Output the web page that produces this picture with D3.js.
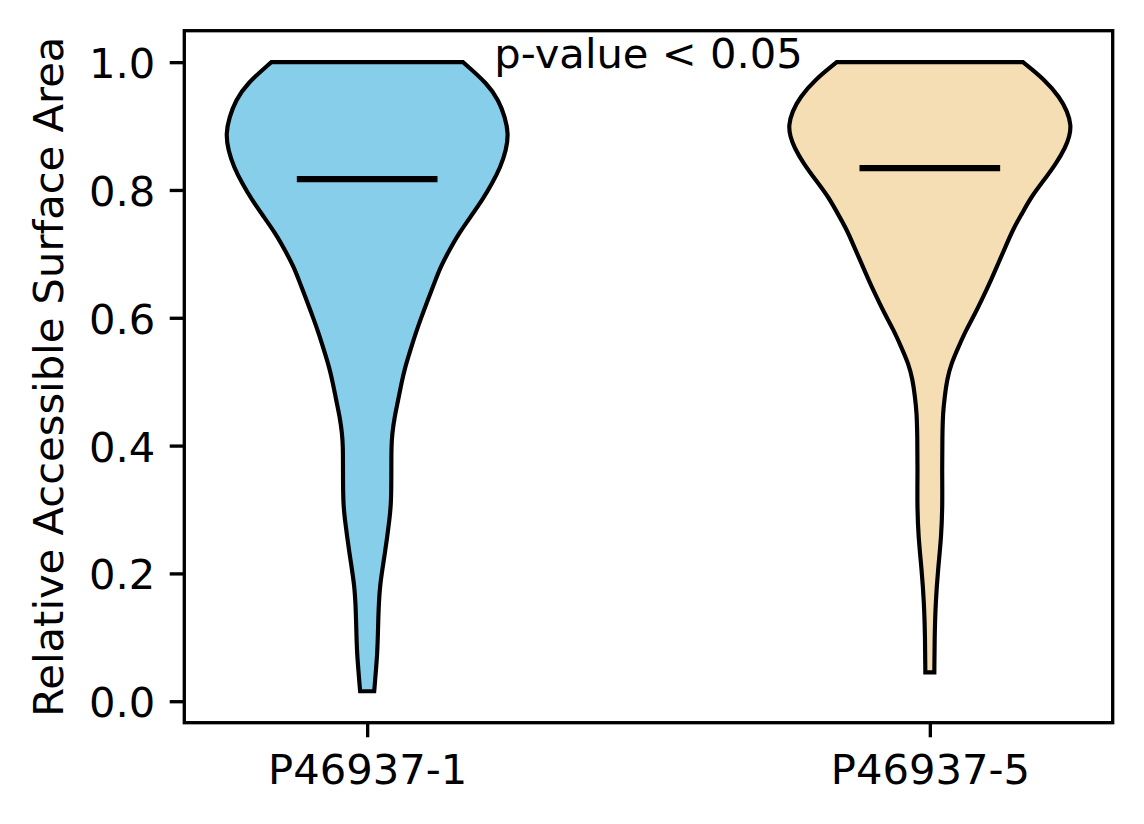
<!DOCTYPE html>
<html>
<head>
<meta charset="utf-8">
<script src="https://cdn.jsdelivr.net/npm/d3@7"></script>
<style>
  body { margin: 0; background: #fff; }
  svg { display: block; font-family: "DejaVu Sans", sans-serif; }
</style>
</head>
<body>
<div id="chart"></div>
<script>
/* Groups and summary values */
var categories = ["P46937-1", "P46937-5"];
var positions = [1, 2];
var medians = [0.817, 0.834];
var yTicks = [0.0, 0.2, 0.4, 0.6, 0.8, 1.0];
var pLabel = "p-value < 0.05";
var yLabel = "Relative Accessible Surface Area";

/* Violin profiles: RSA level and relative density (1 = widest) */
var rsa1 = [0.0156, 0.023, 0.050, 0.076, 0.102, 0.128, 0.154, 0.180, 0.206, 0.232,
            0.258, 0.284, 0.310, 0.362, 0.398, 0.419, 0.445, 0.471, 0.497, 0.523,
            0.550, 0.576, 0.602, 0.627, 0.654, 0.680, 0.706, 0.732, 0.758, 0.784,
            0.810, 0.836, 0.862, 0.888, 0.914, 0.940, 0.966, 1.000];
var dens1 = [0.050, 0.053, 0.063, 0.072, 0.076, 0.079, 0.083, 0.091, 0.108, 0.126,
             0.143, 0.158, 0.171, 0.172, 0.172, 0.178, 0.195, 0.220, 0.243, 0.270,
             0.308, 0.345, 0.387, 0.430, 0.477, 0.522, 0.585, 0.652, 0.735, 0.818,
             0.888, 0.948, 0.988, 1.005, 0.980, 0.935, 0.857, 0.681];

var rsa2 = [0.045, 0.102, 0.154, 0.206, 0.258, 0.310, 0.362, 0.414, 0.451, 0.477,
            0.503, 0.529, 0.555, 0.581, 0.607, 0.633, 0.659, 0.685, 0.711, 0.737,
            0.763, 0.789, 0.815, 0.842, 0.867, 0.884, 0.901, 0.923, 0.945, 0.972, 1.000];
var dens2 = [0.032, 0.034, 0.041, 0.058, 0.082, 0.090, 0.087, 0.089, 0.093, 0.106,
             0.122, 0.153, 0.205, 0.258, 0.323, 0.380, 0.435, 0.486, 0.538, 0.588,
             0.655, 0.720, 0.810, 0.900, 0.965, 0.993, 1.005, 0.978, 0.923, 0.820, 0.662];

var profiles = [
    d3.zip(rsa1, dens1),
    d3.zip(rsa2, dens2)
];

var fills = ["#87ceeb", "#f5deb3"];

/* Sizes: matplotlib look at 300 dpi */
var width = 1144, height = 824;
var pt = 300 / 72;
var margin = {top: 30.7, right: 31.3, bottom: 101.3, left: 184.3};
var fontSize = 10 * pt;
var halfWidth = 0.25;   /* violin widths = 0.5 */

var svg = d3.select("#chart")
    .append("svg")
    .attr("width", width)
    .attr("height", height);

/* Axis limits with the usual 5% margins */
var allMin = d3.min(profiles, function (p) { return p[0][0]; });
var allMax = d3.max(profiles, function (p) { return p[p.length - 1][0]; });
var ySpan = allMax - allMin;

var x = d3.scaleLinear()
    .domain([0.75 - 0.075, 2.25 + 0.075])
    .range([margin.left, width - margin.right]);

var y = d3.scaleLinear()
    .domain([allMin - 0.05 * ySpan, allMax + 0.05 * ySpan])
    .range([height - margin.bottom, margin.top]);

/* Violins */
var violins = svg.append("g").attr("class", "violins");

profiles.forEach(function (prof, i) {
    var pos = positions[i];
    var area = d3.area()
        .curve(d3.curveBasis)
        .y(function (d) { return y(d[0]); })
        .x0(function (d) { return x(pos - halfWidth * d[1]); })
        .x1(function (d) { return x(pos + halfWidth * d[1]); });

    violins.append("path")
        .datum(prof)
        .attr("d", area)
        .attr("fill", fills[i])
        .attr("stroke", "#000")
        .attr("stroke-width", 1 * pt)
        .attr("stroke-linejoin", "miter");

    /* Median line */
    violins.append("line")
        .attr("x1", x(pos - halfWidth / 2))
        .attr("x2", x(pos + halfWidth / 2))
        .attr("y1", y(medians[i]))
        .attr("y2", y(medians[i]))
        .attr("stroke", "#000")
        .attr("stroke-width", 1.5 * pt);
});

/* Axes */
var yAxis = d3.axisLeft(y)
    .tickValues(yTicks)
    .tickFormat(d3.format(".1f"))
    .tickSize(3.5 * pt)
    .tickPadding(3.5 * pt);

var gy = svg.append("g")
    .attr("transform", "translate(" + margin.left + ",0)")
    .call(yAxis);

var xAxis = d3.axisBottom(x)
    .tickValues(positions)
    .tickFormat(function (d, i) { return categories[i]; })
    .tickSize(3.5 * pt)
    .tickPadding(3.5 * pt);

var gx = svg.append("g")
    .attr("transform", "translate(0," + (height - margin.bottom) + ")")
    .call(xAxis);

[gx, gy].forEach(function (g) {
    g.select(".domain").remove();
    g.selectAll(".tick line")
        .attr("stroke", "#000")
        .attr("stroke-width", 0.8 * pt);
    g.selectAll(".tick text")
        .attr("fill", "#000")
        .attr("font-family", "DejaVu Sans")
        .attr("font-size", fontSize);
});
gy.selectAll(".tick text").attr("dy", "0.37em");
gx.selectAll(".tick text").attr("dy", "0.76em");

/* Frame */
svg.append("rect")
    .attr("x", margin.left)
    .attr("y", margin.top)
    .attr("width", width - margin.left - margin.right)
    .attr("height", height - margin.top - margin.bottom)
    .attr("fill", "none")
    .attr("stroke", "#000")
    .attr("stroke-width", 0.8 * pt);

/* Y label */
svg.append("text")
    .attr("transform", "translate(63," + ((margin.top + height - margin.bottom) / 2) + ") rotate(-90)")
    .attr("text-anchor", "middle")
    .attr("font-size", fontSize)
    .attr("fill", "#000")
    .text(yLabel);

/* Significance note */
svg.append("text")
    .attr("x", x(1.5))
    .attr("y", y(1.0) + 5.5)
    .attr("text-anchor", "middle")
    .attr("font-size", fontSize)
    .attr("fill", "#000")
    .text(pLabel);
</script>
</body>
</html>
